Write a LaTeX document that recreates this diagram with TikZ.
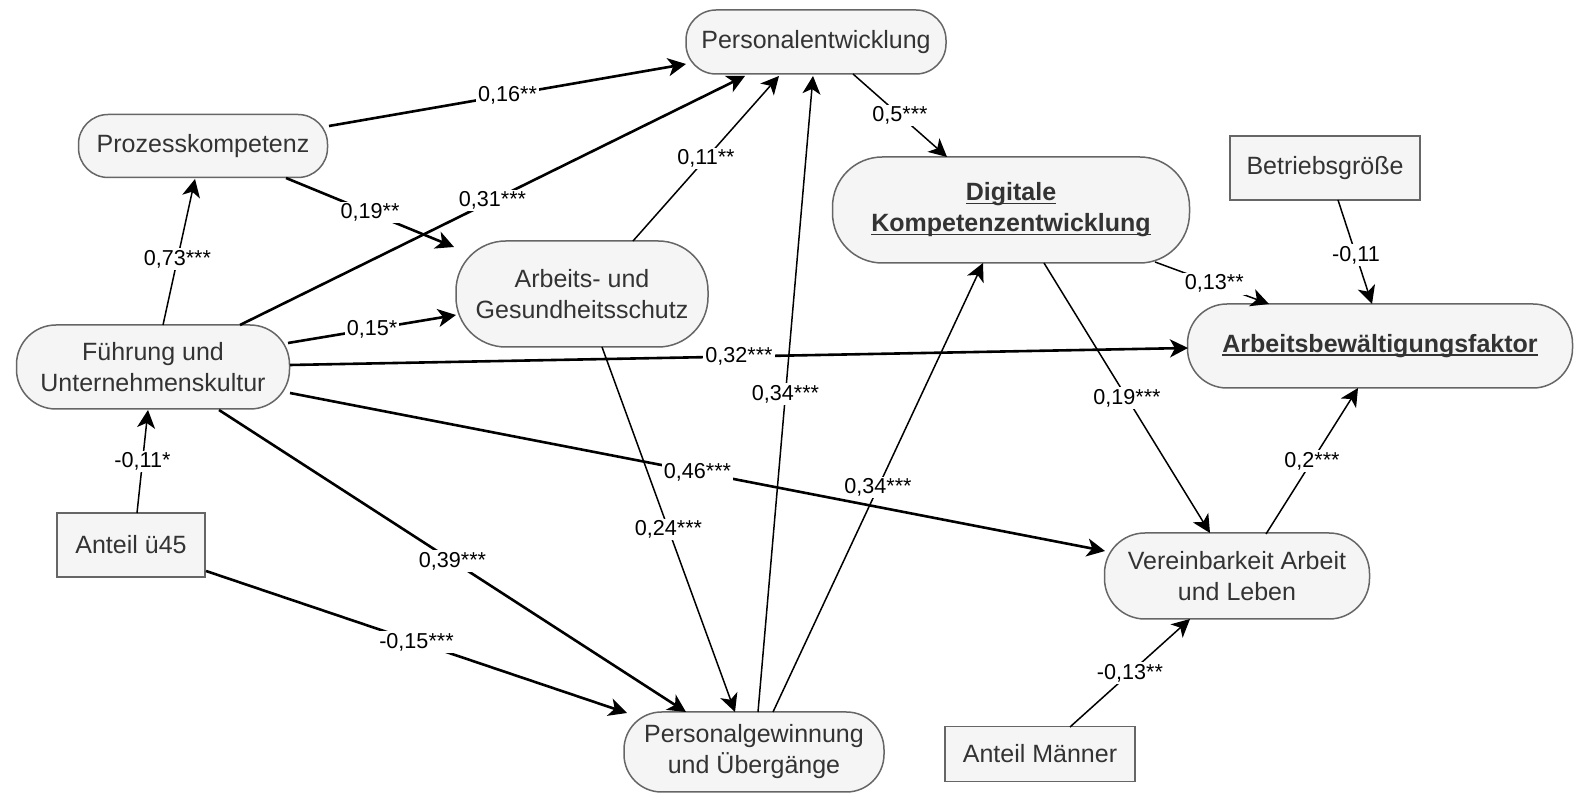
\documentclass[tikz,border=0pt]{standalone}
\usepackage{fontspec}
\setmainfont{Liberation Sans}
\usetikzlibrary{arrows.meta}
\definecolor{boxfill}{HTML}{F5F5F5}
\definecolor{boxborder}{HTML}{666666}
\definecolor{boxtext}{HTML}{333333}
\newcommand\mynodefont{\fontsize{12.5}{15.5}\selectfont}
\newcommand\mylblfont{\fontsize{10.8}{12}\selectfont}
\newcommand\myul[1]{\setbox0\hbox{#1}\rlap{\rule[-1.6pt]{\wd0}{0.6pt}}\box0}
\begin{document}
\begin{tikzpicture}[x=0.5pt,y=-0.5pt,
  rnd/.style args={#1/#2}{draw=boxborder, fill=boxfill, text=boxtext, line width=0.75pt,
     minimum width=#1*0.5pt, minimum height=#2*0.5pt, inner sep=0pt, align=center,
     font=\mynodefont, rounded corners=#2*0.235pt},
  sq/.style args={#1/#2}{draw=boxborder, fill=boxfill, text=boxtext, line width=0.75pt,
     minimum width=#1*0.5pt, minimum height=#2*0.5pt, inner sep=0pt, align=center,
     font=\mynodefont},
  thk/.style={line width=1.3pt, -{Stealth[length=9pt,width=9pt,inset=2.5pt]}},
  thn/.style={line width=0.75pt, -{Stealth[length=9pt,width=9pt,inset=2.5pt]}},
  lb/.style={fill=white, inner sep=1pt, font=\mylblfont, text=black}]
\useasboundingbox (0,0) rectangle (1575,795);

% nodes
\node[rnd=260/64] (PE) at (816,42) {Personalentwicklung};
\node[rnd=249/63] (PK) at (203,146) {Prozesskompetenz};
\node[rnd=273/84] (FU) at (153,367) {Führung und\\Unternehmenskultur};
\node[rnd=252/106] (AG) at (582,294) {Arbeits- und\\Gesundheitsschutz};
\node[rnd=357/106] (DK) at (1011,210) {\myul{\textbf{Digitale}}\\\myul{\textbf{Kompetenzentwicklung}}};
\node[sq=190/64] (BG) at (1325,168) {Betriebsgröße};
\node[rnd=385/84] (AB) at (1380,346) {\myul{\textbf{Arbeitsbewältigungsfaktor}}};
\node[sq=148/64] (U45) at (131,545) {Anteil ü45};
\node[rnd=260/80] (PG) at (754,752) {Personalgewinnung\\und Übergänge};
\node[rnd=265/86] (VAL) at (1237,576) {Vereinbarkeit Arbeit\\und Leben};
\node[sq=190/55] (AM) at (1040,754) {Anteil Männer};

% connectors
\draw[thk] ([shift={(126,-20)}]PK.center) -- node[lb]{0,16**} ([shift={(-130,22)}]PE.center);
\draw[thk] ([shift={(83,32)}]PK.center) -- node[lb]{0,19**} ([shift={(-128,-47)}]AG.center);
\draw[thk] ([shift={(87,-42)}]FU.center) -- node[lb]{0,31***} ([shift={(-71,34)}]PE.center);
\draw[thn] ([shift={(10,-42)}]FU.center) -- node[lb,pos=0.45]{0,73***} ([shift={(-8,33)}]PK.center);
\draw[thk] ([shift={(135,-24)}]FU.center) -- node[lb]{0,15*} ([shift={(-126,21)}]AG.center);
\draw[thn] ([shift={(51,-53)}]AG.center) -- node[lb]{0,11**} ([shift={(-37,34)}]PE.center);
\draw[thk] ([shift={(137,-2)}]FU.center) -- node[lb]{0,32***} ([shift={(-192,2)}]AB.center);
\draw[thk] ([shift={(137,26)}]FU.center) -- node[lb]{0,46***} ([shift={(-132,-25)}]VAL.center);
\draw[thk] ([shift={(66,43)}]FU.center) -- node[lb]{0,39***} ([shift={(-68,-40)}]PG.center);
\draw[thn] ([shift={(6,-32)}]U45.center) -- node[lb]{-0,11*} ([shift={(-5,43)}]FU.center);
\draw[thk] ([shift={(75,26)}]U45.center) -- node[lb]{-0,15***} ([shift={(-127,-39)}]PG.center);
\draw[thn] ([shift={(20,53)}]AG.center) -- node[lb]{0,24***} ([shift={(-19,-40)}]PG.center);
\draw[thn] ([shift={(4,-40)}]PG.center) -- node[lb]{0,34***} ([shift={(-3,34)}]PE.center);
\draw[thn] ([shift={(19,-40)}]PG.center) -- node[lb]{0,34***} ([shift={(-28,53)}]DK.center);
\draw[thn] ([shift={(37,32)}]PE.center) -- node[lb]{0,5***} ([shift={(-64,-53)}]DK.center);
\draw[thn] ([shift={(144,52)}]DK.center) -- node[lb,pos=0.52]{0,13**} ([shift={(-111,-42)}]AB.center);
\draw[thn] ([shift={(13,32)}]BG.center) -- node[lb,pos=0.53]{-0,11} ([shift={(-8,-42)}]AB.center);
\draw[thn] ([shift={(33,53)}]DK.center) -- node[lb]{0,19***} ([shift={(-27,-43)}]VAL.center);
\draw[thn] ([shift={(29,-42)}]VAL.center) -- node[lb]{0,2***} ([shift={(-22,42)}]AB.center);
\draw[thn] ([shift={(30,-27)}]AM.center) -- node[lb]{-0,13**} ([shift={(-47,43)}]VAL.center);
\end{tikzpicture}
\end{document}
